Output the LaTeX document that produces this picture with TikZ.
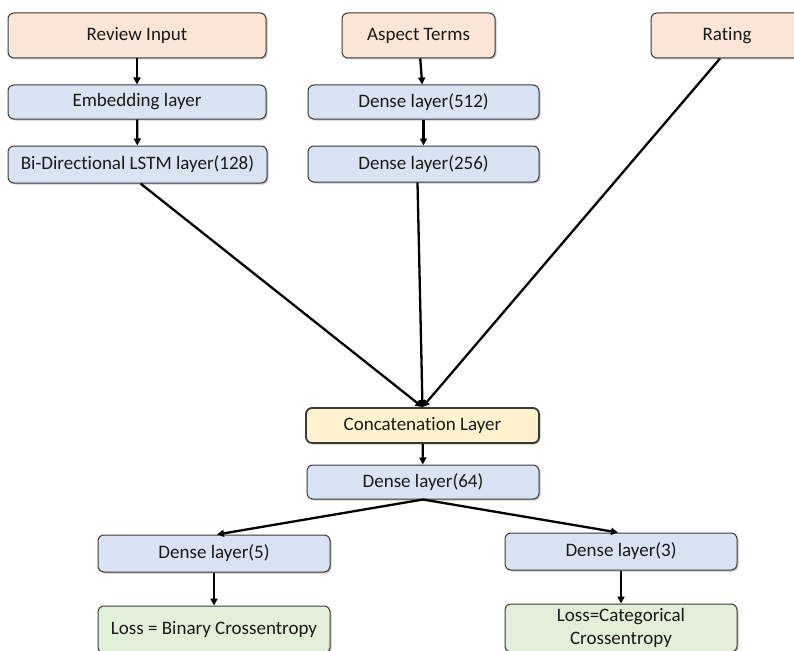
\documentclass[tikz,border=0pt]{standalone}
\usepackage{fontspec}
\setmainfont{Carlito}[Ligatures={NoCommon}]
\usetikzlibrary{arrows.meta,shadows}
\definecolor{peach}{HTML}{FBE5D6}
\definecolor{lblue}{HTML}{DAE3F3}
\definecolor{lyellow}{HTML}{FFF2CC}
\definecolor{lgreen}{HTML}{E2F0D9}
\definecolor{edge}{HTML}{3A3A3A}
\tikzset{
  box/.style={draw=edge, line width=1pt, rounded corners=6pt, inner sep=0pt,
    font=\fontsize{19}{23}\selectfont, text=black!90, align=center,
    drop shadow={shadow xshift=1.5pt, shadow yshift=-1.5pt, opacity=0.35, fill=black!60}},
  inbox/.style={box, fill=peach},
  layer/.style={box, fill=lblue},
  catbox/.style={box, fill=lyellow, line width=1.8pt},
  lossbox/.style={box, fill=lgreen},
  arr/.style={line width=2.3pt, -{Triangle[length=7pt,width=7pt]}},
}
\begin{document}
\begin{tikzpicture}[x=1pt,y=-1pt]
\useasboundingbox (0,0) rectangle (794,650);
\clip (0,0) rectangle (794,650);
\fill[white] (0,0) rectangle (794,650);
% inputs
\node[inbox, minimum width=258pt, minimum height=45pt] (review) at (137,35.5) {Review Input};
\node[inbox, minimum width=153pt, minimum height=45pt] (aspect) at (418.5,35.5) {Aspect Terms};
\node[inbox, minimum width=152pt, minimum height=45pt] (rating) at (727,35.5) {Rating};
% left column
\node[layer, minimum width=258pt, minimum height=34pt] (embed) at (137,102) {Embedding layer};
\node[layer, minimum width=259pt, minimum height=37pt] (lstm) at (137.5,164.5) {Bi-Directional LSTM layer(128)};
% middle column
\node[layer, minimum width=231pt, minimum height=34pt] (d512) at (423.5,102) {Dense layer(512)};
\node[layer, minimum width=231pt, minimum height=36pt] (d256) at (423.5,164) {Dense layer(256)};
% concatenation
\node[catbox, minimum width=233pt, minimum height=35pt] (concat) at (422.5,425.5) {Concatenation Layer};
\node[layer, minimum width=232pt, minimum height=34pt] (d64) at (423,482) {Dense layer(64)};
% outputs
\node[layer, minimum width=232pt, minimum height=37pt] (d5) at (214,553.5) {Dense layer(5)};
\node[layer, minimum width=232pt, minimum height=37pt] (d3) at (621,551.5) {Dense layer(3)};
\node[lossbox, minimum width=232pt, minimum height=47pt] (loss5) at (214,629.5) {Loss = Binary Crossentropy};
\node[lossbox, minimum width=232pt, minimum height=48pt] (loss3) at (621,628) {Loss=Categorical\\Crossentropy};
% connectors
\draw[arr] (review) -- (embed);
\draw[arr] (embed) -- (lstm);
\draw[arr] (aspect) -- (d512);
\draw[arr] (d512) -- (d256);
\draw[arr] ([xshift=3pt]lstm.south) -- (concat.north);
\draw[arr] ([xshift=-6pt]d256.south) -- (concat.north);
\draw[arr] ([xshift=-7pt]rating.south) -- (concat.north);
\draw[arr] (concat) -- (d64);
\draw[arr] (d64.south) -- ([xshift=3pt]d5.north);
\draw[arr] (d64.south) -- ([xshift=-3pt]d3.north);
\draw[arr] (d5) -- (loss5);
\draw[arr] (d3) -- (loss3);
\end{tikzpicture}
\end{document}
